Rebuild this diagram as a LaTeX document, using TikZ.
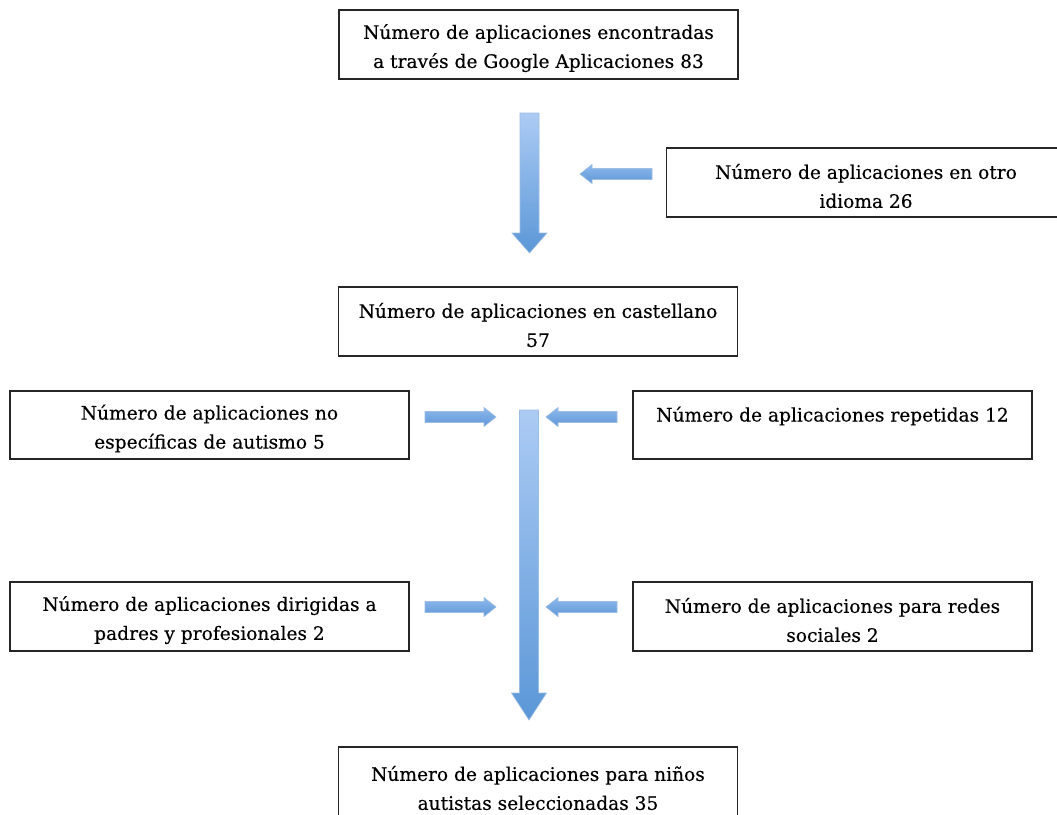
\documentclass[tikz,border=0pt]{standalone}
\usepackage{fontspec}
\setmainfont[FakeBold=0.3]{DejaVu Serif}
\usetikzlibrary{calc}
\definecolor{vtop}{HTML}{ACCBF4}
\definecolor{vbot}{HTML}{5B97D7}
\definecolor{htop}{HTML}{8DB8EC}
\definecolor{hbot}{HTML}{5F97D8}
\definecolor{arredge}{HTML}{9DBDE3}
\newcommand\firststrut{\rule{0pt}{22pt}}
\newcommand\vblockarrow[3]{%
  \shade[top color=vtop,bottom color=vbot,draw=arredge,line width=0.6pt]
  ($(#1)+(-9.5,0)$) -- ($(#1)+(9.5,0)$) -- ($(#2)+(9.5,-#3)$) -- ($(#2)+(17.5,-#3)$)
  -- (#2) -- ($(#2)+(-17.5,-#3)$) -- ($(#2)+(-9.5,-#3)$) -- cycle;}
\newcommand\hblockarrow[3]{%
  \shade[top color=htop,bottom color=hbot,draw=arredge,line width=0.6pt]
  ($(#1)+(0,-5.5)$) -- ($(#2)+(#3*12,-5.5)$) -- ($(#2)+(#3*12,-9.5)$) -- (#2)
  -- ($(#2)+(#3*12,9.5)$) -- ($(#2)+(#3*12,5.5)$) -- ($(#1)+(0,5.5)$) -- cycle;}
\begin{document}
\begin{tikzpicture}[x=1pt,y=-1pt,
  box/.style={draw=black!85, line width=1.6pt, fill=white, inner sep=0pt,
    align=center, font=\fontsize{18.6}{29}\selectfont,
    minimum width=399pt, minimum height=69pt}]
\useasboundingbox (0,0) rectangle (1057,814);
\fill[white] (0,0) rectangle (1057,814);
\clip (0,0) rectangle (1057,814);

\node[box] (top) at (538.5,44.5) {\firststrut Número de aplicaciones encontradas\\a través de Google Aplicaciones 83};
\node[box] (otro) at (866,182.5) {\firststrut Número de aplicaciones en otro\\idioma 26};
\node[box] (cast) at (538,321.5) {\firststrut Número de aplicaciones en castellano\\57};
\node[box, minimum height=68pt] (noesp) at (209.5,425) {\firststrut Número de aplicaciones no\\específicas de autismo 5};
\node[box, minimum height=68pt] (rep) at (832.5,425) {\firststrut Número de aplicaciones repetidas 12\\\mbox{}};
\node[box] (padres) at (209.5,616.5) {\firststrut Número de aplicaciones dirigidas a\\padres y profesionales 2};
\node[box] (redes) at (832.5,616.5) {\firststrut Número de aplicaciones para redes\\sociales 2};
\node[box, minimum height=82pt] (final) at (538,788) {Número de aplicaciones para niños\\autistas seleccionadas 35};

\coordinate (v1s) at (529.5,113);
\coordinate (v1e) at (529.5,253);
\coordinate (v2s) at (529,410);
\coordinate (v2e) at (529,720);
\vblockarrow{v1s}{v1e}{20}
\vblockarrow{v2s}{v2e}{27}

\coordinate (h1t) at (652,174);
\coordinate (h1e) at (580,174);
\coordinate (h2t) at (425,417);
\coordinate (h2e) at (496,417);
\coordinate (h3t) at (617,417);
\coordinate (h3e) at (546,417);
\coordinate (h4t) at (425,607);
\coordinate (h4e) at (496,607);
\coordinate (h5t) at (617,607);
\coordinate (h5e) at (546,607);
\hblockarrow{h1t}{h1e}{1}
\hblockarrow{h2t}{h2e}{-1}
\hblockarrow{h3t}{h3e}{1}
\hblockarrow{h4t}{h4e}{-1}
\hblockarrow{h5t}{h5e}{1}
\end{tikzpicture}
\end{document}
